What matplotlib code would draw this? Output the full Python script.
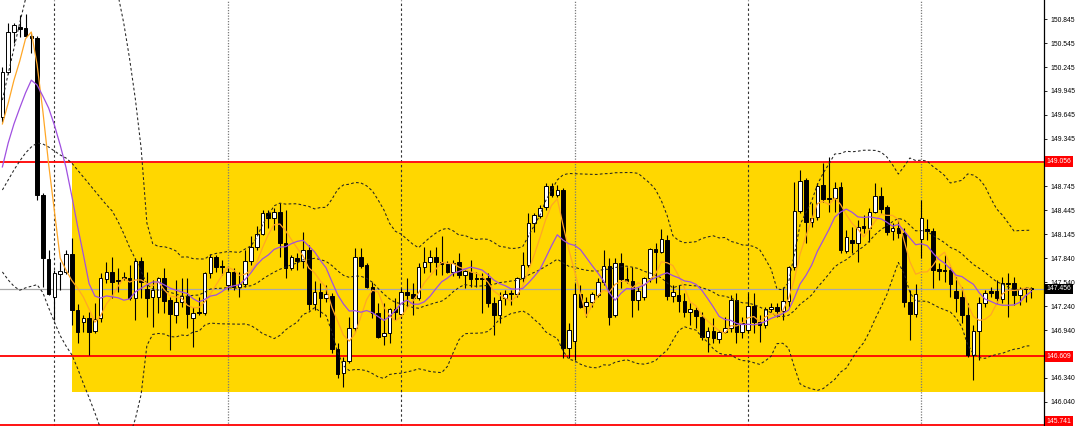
import numpy as np
import pandas as pd
import matplotlib
matplotlib.use("Agg")
import matplotlib.pyplot as plt
import matplotlib.transforms as mtransforms
from matplotlib.patches import Rectangle

# ---------------- data ----------------
opens = [
    149.617, 150.182, 150.685, 150.748, 150.735, 150.635, 150.610, 148.637, 147.833, 147.356,
    147.645, 147.670, 147.896, 147.192, 147.042, 147.092, 146.929, 147.092, 147.582, 147.670,
    147.569, 147.607, 147.594, 147.343, 147.808, 147.456, 147.356, 147.356, 147.594, 147.318,
    147.130, 147.293, 147.368, 147.092, 147.167, 147.155, 147.657, 147.858, 147.745, 147.507,
    147.670, 147.481, 147.519, 147.808, 147.984, 148.147, 148.411, 148.348, 148.424, 148.034,
    147.720, 147.846, 147.808, 147.946, 147.268, 147.419, 147.343, 147.368, 146.703, 146.401,
    146.552, 146.966, 147.858, 147.758, 147.481, 147.155, 146.866, 146.904, 147.205, 147.142,
    147.419, 147.393, 147.343, 147.733, 147.795, 147.858, 147.795, 147.770, 147.670, 147.795,
    147.632, 147.670, 147.594, 147.594, 147.594, 147.280, 147.130, 147.343, 147.406, 147.393,
    147.594, 147.758, 148.285, 148.373, 148.486, 148.750, 148.637, 148.700, 146.715, 146.803,
    147.393, 147.243, 147.293, 147.381, 147.544, 147.745, 147.130, 147.783, 147.582, 147.557,
    147.318, 147.356, 147.594, 147.959, 147.921, 148.072, 147.368, 147.381, 147.306, 147.167,
    147.192, 147.105, 146.853, 146.929, 146.828, 146.916, 146.966, 147.318, 146.916, 146.941,
    147.243, 147.042, 147.004, 147.205, 147.230, 147.180, 147.306, 147.733, 148.436, 148.826,
    148.298, 148.361, 148.763, 148.600, 148.600, 148.738, 147.934, 148.072, 148.034, 148.248,
    148.223, 148.424, 148.625, 148.486, 148.185, 148.223, 148.160, 147.293, 147.142, 148.084,
    148.210, 148.185, 147.708, 147.695, 147.695, 147.431, 147.356, 147.130, 146.627, 146.929,
    147.280, 147.431, 147.431, 147.331, 147.532, 147.532, 147.381, 147.469, 147.469,
]
highs = [
    150.245, 150.798, 150.798, 150.899, 150.911, 150.672, 150.635, 148.662, 147.946, 147.695,
    147.795, 147.946, 148.097, 147.268, 147.130, 147.167, 147.280, 147.657, 147.795, 147.858,
    147.720, 147.670, 147.758, 147.846, 147.858, 147.670, 147.569, 147.607, 147.720, 147.356,
    147.569, 147.594, 147.594, 147.230, 147.356, 147.670, 147.896, 147.883, 147.821, 147.720,
    147.720, 147.670, 147.946, 148.122, 148.248, 148.449, 148.449, 148.474, 148.537, 148.449,
    147.883, 147.909, 148.172, 148.009, 147.557, 147.532, 147.507, 147.406, 146.778, 146.602,
    147.105, 147.971, 147.971, 147.783, 147.544, 147.280, 147.280, 147.218, 147.343, 147.469,
    147.594, 147.532, 147.783, 147.984, 147.946, 147.984, 148.122, 147.808, 147.821, 147.909,
    147.695, 147.821, 147.670, 147.657, 147.657, 147.356, 147.419, 147.444, 147.444, 147.607,
    147.921, 148.411, 148.411, 148.512, 148.788, 148.788, 148.763, 148.725, 147.029, 147.532,
    147.507, 147.356, 147.419, 147.594, 147.946, 147.846, 147.846, 147.909, 147.733, 147.733,
    147.481, 147.607, 147.971, 148.034, 148.210, 148.135, 147.507, 147.507, 147.406, 147.280,
    147.230, 147.167, 146.979, 147.092, 146.941, 147.105, 147.381, 147.406, 147.105, 147.406,
    147.406, 147.130, 147.230, 147.280, 147.280, 147.481, 147.745, 148.801, 148.951, 148.851,
    148.537, 148.788, 149.039, 149.115, 148.801, 148.801, 148.198, 148.235, 148.323, 148.386,
    148.474, 148.788, 148.738, 148.512, 148.285, 148.348, 148.223, 147.444, 147.519, 148.574,
    148.336, 148.223, 147.783, 147.883, 147.733, 147.607, 147.481, 147.280, 147.004, 147.356,
    147.444, 147.481, 147.569, 147.607, 147.657, 147.607, 147.481, 147.481, 147.481,
]
lows = [
    149.554, 150.157, 150.547, 150.622, 150.622, 150.421, 148.574, 147.481, 147.381, 147.067,
    147.444, 147.645, 147.004, 146.778, 146.916, 146.627, 146.904, 147.042, 147.532, 147.343,
    147.419, 147.569, 147.318, 147.067, 147.343, 147.105, 146.979, 147.155, 147.155, 146.690,
    147.029, 147.230, 146.966, 146.728, 147.130, 147.130, 147.594, 147.670, 147.632, 147.444,
    147.444, 147.356, 147.481, 147.758, 147.946, 148.135, 148.223, 148.198, 147.858, 147.594,
    147.695, 147.695, 147.720, 147.192, 147.192, 147.105, 147.293, 146.652, 146.339, 146.225,
    146.527, 146.916, 147.720, 147.469, 147.092, 146.841, 146.753, 146.778, 147.067, 147.092,
    147.230, 147.130, 147.318, 147.657, 147.670, 147.632, 147.632, 147.657, 147.620, 147.594,
    147.469, 147.481, 147.481, 147.155, 147.230, 146.878, 147.029, 147.255, 147.255, 147.356,
    147.544, 147.733, 148.172, 148.348, 148.449, 148.612, 148.612, 146.589, 146.589, 146.564,
    147.218, 147.105, 147.230, 147.356, 147.507, 147.004, 147.105, 147.469, 147.532, 147.105,
    147.192, 147.318, 147.544, 147.532, 147.909, 147.318, 147.293, 147.167, 147.105, 147.004,
    146.966, 146.816, 146.665, 146.778, 146.778, 146.904, 146.916, 146.778, 146.841, 146.904,
    146.904, 146.790, 146.966, 147.167, 147.105, 147.067, 147.230, 147.695, 148.411, 148.034,
    148.235, 148.323, 148.549, 148.424, 148.424, 147.909, 147.909, 147.909, 147.795, 148.160,
    148.047, 148.411, 148.411, 148.135, 148.072, 148.097, 147.230, 146.816, 147.105, 147.846,
    148.072, 147.469, 147.569, 147.544, 147.356, 147.167, 147.029, 146.602, 146.313, 146.564,
    147.230, 147.356, 147.280, 147.280, 147.105, 147.255, 147.255, 147.293, 147.343,
]
closes = [
    150.182, 150.685, 150.773, 150.723, 150.635, 150.610, 148.637, 147.846, 147.393, 147.657,
    147.682, 147.896, 147.192, 146.916, 147.092, 146.916, 147.079, 147.594, 147.670, 147.544,
    147.557, 147.594, 147.343, 147.808, 147.544, 147.343, 147.444, 147.594, 147.306, 147.142,
    147.293, 147.368, 147.142, 147.155, 147.155, 147.657, 147.858, 147.733, 147.733, 147.670,
    147.481, 147.519, 147.808, 147.984, 148.147, 148.411, 148.348, 148.424, 148.034, 147.720,
    147.858, 147.808, 147.946, 147.268, 147.419, 147.343, 147.393, 146.703, 146.388, 146.552,
    146.966, 147.858, 147.745, 147.481, 147.155, 146.853, 146.904, 147.205, 147.167, 147.419,
    147.381, 147.343, 147.733, 147.795, 147.858, 147.795, 147.770, 147.670, 147.783, 147.632,
    147.682, 147.582, 147.582, 147.582, 147.280, 147.130, 147.318, 147.393, 147.393, 147.594,
    147.758, 148.285, 148.386, 148.474, 148.750, 148.637, 148.700, 146.715, 146.941, 147.393,
    147.230, 147.293, 147.393, 147.544, 147.745, 147.105, 147.783, 147.582, 147.557, 147.318,
    147.431, 147.594, 147.959, 147.921, 148.084, 147.368, 147.419, 147.306, 147.167, 147.205,
    147.117, 146.853, 146.929, 146.841, 146.916, 146.966, 147.318, 146.916, 147.029, 147.243,
    147.042, 147.004, 147.205, 147.230, 147.180, 147.306, 147.733, 148.436, 148.813, 148.298,
    148.348, 148.750, 148.587, 148.587, 148.725, 147.946, 148.110, 148.034, 148.235, 148.223,
    148.424, 148.625, 148.461, 148.172, 148.223, 148.160, 147.293, 147.142, 147.393, 148.348,
    148.185, 147.695, 147.682, 147.682, 147.519, 147.343, 147.130, 146.627, 146.929, 147.280,
    147.406, 147.406, 147.343, 147.532, 147.519, 147.381, 147.456, 147.456, 147.456,
]

# indicator values at the left edge (history before the window is not visible)
sma5_head = [149.53, 149.79, 150.08, 150.32]
sma10_head = [148.99, 149.29, 149.53, 149.73, 149.92, 150.08, 150.02, 149.88, 149.73]
bb_mid_head = [148.700, 148.826, 148.951, 149.064, 149.165, 149.240, 149.291, 149.278, 149.240, 149.190,
               149.140, 149.102, 149.039, 148.951, 148.863, 148.775, 148.688, 148.600, 148.512]
bb_up_head = [149.83, 150.16, 150.48, 150.80, 151.10] + [np.nan] * 14
bb_lo_head = [147.67, 147.57, 147.49, 147.44, 147.47, 147.49, 147.51, 147.41, 147.22, 147.04,
              146.87, 146.74, 146.63, 146.46, 146.27, 146.09, 145.90, 145.70, np.nan]

red_levels = [149.056, 146.609, 145.741]
last_price = 147.456
zone_top, zone_bottom = 149.035, 146.165
zone_start = 12
separators_dark = [9, 69, 129]
separators_light = [39, 99, 159]
tick_values = [150.845, 150.545, 150.245, 149.945, 149.645, 149.345, 148.745, 148.445, 148.145,
               147.840, 147.540, 147.240, 146.940, 146.340, 146.040]

# ---------------- indicators ----------------
c_series = pd.Series(closes)
sma5 = c_series.rolling(5).mean().to_numpy()
sma5[:len(sma5_head)] = sma5_head
sma10 = c_series.rolling(10).mean().to_numpy()
sma10[:len(sma10_head)] = sma10_head
mid = c_series.rolling(20).mean()
sd = c_series.rolling(20).std(ddof=0)
bb_mid = mid.to_numpy().copy()
bb_up = (mid + 2 * sd).to_numpy()
bb_lo = (mid - 2 * sd).to_numpy()
bb_mid[:19] = bb_mid_head
bb_up[:19] = bb_up_head
bb_lo[:19] = bb_lo_head

# ---------------- figure ----------------
W, H = 1080, 426
fig = plt.figure(figsize=(W / 100, H / 100), dpi=100)
fig.patch.set_facecolor("white")
ax = fig.add_axes([0, 0, 1044 / W, 1])
ax.set_facecolor("white")

n = len(closes)
x = np.arange(n)
o = np.array(opens); h = np.array(highs); l = np.array(lows); c = np.array(closes)

ymin, ymax = 145.734, 151.0875
ax.set_xlim(-0.415, 180.2)
ax.set_ylim(ymin, ymax)

# zone rectangle
ax.add_patch(Rectangle((zone_start, zone_bottom), 400, zone_top - zone_bottom,
                       facecolor="#FFD700", edgecolor="none", zorder=1))

# separators
for s in separators_dark:
    ax.axvline(s, color="#333333", lw=0.8, ls=(0, (2.2, 2.2)), zorder=2)
for s in separators_light:
    ax.axvline(s, color="#7a7a7a", lw=0.9, ls=(0, (1, 1.2)), zorder=2)

# horizontal levels
for v in red_levels:
    ax.axhline(v, color="#FF0000", lw=1.3, zorder=2.5)
ax.axhline(last_price, color="#A8A8A8", lw=0.9, zorder=2.5)

# candles
up = c >= o
ax.vlines(x, l, h, color="black", lw=0.8, zorder=4)
body_bottom = np.minimum(o, c)
body_height = np.abs(c - o)
ax.bar(x[up], body_height[up], bottom=body_bottom[up], width=0.62, color="white",
       edgecolor="black", linewidth=0.7, zorder=5)
ax.bar(x[~up], body_height[~up], bottom=body_bottom[~up], width=0.62, color="black",
       edgecolor="black", linewidth=0.7, zorder=5)

# Bollinger bands
for arr in (bb_up, bb_mid, bb_lo):
    ax.plot(x, arr, color="#222222", lw=0.75, ls=(0, (2.6, 2.2)), zorder=6)

# moving averages
ax.plot(x, sma5, color="#FFA726", lw=0.9, zorder=7)
ax.plot(x, sma10, color="#A050E0", lw=0.9, zorder=7)

# axes styling
for side in ("left", "top", "bottom"):
    ax.spines[side].set_visible(False)
ax.spines["right"].set_color("black")
ax.spines["right"].set_linewidth(0.9)
ax.set_xticks([])
ax.yaxis.tick_right()
ax.set_yticks(tick_values)
ax.set_yticklabels([f"{v:.3f}" for v in tick_values], fontsize=4.9, family="Liberation Sans")
ax.tick_params(axis="y", direction="out", length=2.5, width=0.6, pad=2)

trans = mtransforms.blended_transform_factory(ax.transAxes, ax.transData)
box_kw = dict(ha="left", fontsize=4.9, family="Liberation Sans", color="white",
              clip_on=False, zorder=10, transform=trans)
for v in red_levels:
    if v - ymin < 0.05:
        ax.text(1.0025, ymin + 0.012, f"{v:.3f}", va="bottom",
                bbox=dict(boxstyle="square,pad=0.25", fc="#FF0000", ec="none"), **box_kw)
    else:
        ax.text(1.0025, v, f"{v:.3f}", va="center",
                bbox=dict(boxstyle="square,pad=0.25", fc="#FF0000", ec="none"), **box_kw)
ax.text(1.0025, last_price, f"{last_price:.3f}", va="center",
        bbox=dict(boxstyle="square,pad=0.25", fc="black", ec="none"), **box_kw)

fig.savefig("out.png", dpi=100)
